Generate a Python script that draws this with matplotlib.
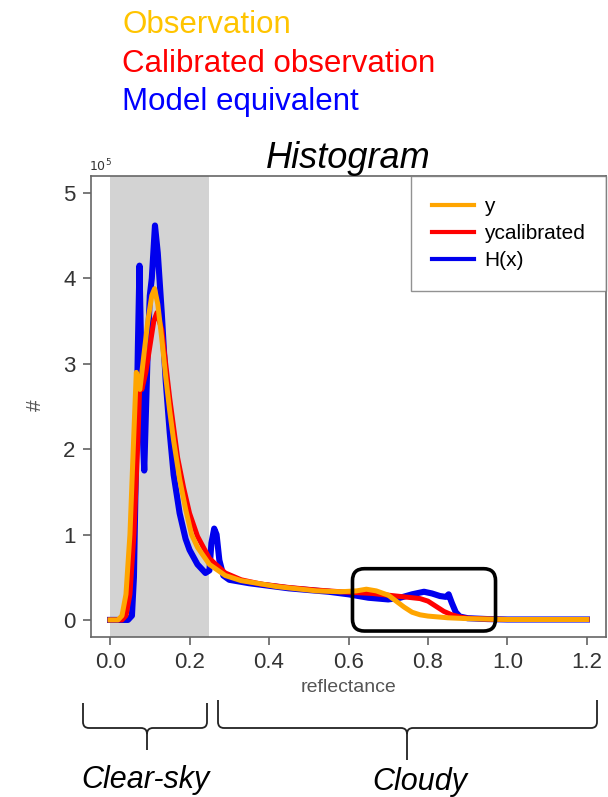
import numpy as np
import matplotlib.pyplot as plt
from matplotlib.patches import FancyBboxPatch, PathPatch
from matplotlib.path import Path

plt.rcParams['font.family'] = ['Liberation Sans', 'DejaVu Sans']

# reflectance / counts (x 1e5)
x_obs = [0.0, 0.02, 0.03, 0.04, 0.05, 0.06, 0.066, 0.075, 0.085, 0.095, 0.105, 0.112,
         0.12, 0.13, 0.14, 0.15, 0.16, 0.175, 0.19, 0.205, 0.22, 0.25, 0.29, 0.33, 0.37,
         0.42, 0.46, 0.52, 0.58, 0.62, 0.645, 0.67, 0.70, 0.72, 0.74, 0.76, 0.78, 0.80,
         0.85, 0.90, 0.95, 1.0, 1.2]
y_obs = [0, 0, 0.05, 0.3, 1.0, 2.2, 2.9, 2.7, 3.1, 3.5, 3.8, 3.88,
         3.7, 3.3, 2.85, 2.45, 2.1, 1.65, 1.3, 1.0, 0.85, 0.65, 0.52, 0.46, 0.43,
         0.39, 0.37, 0.34, 0.33, 0.34, 0.36, 0.34, 0.29, 0.22, 0.15, 0.09, 0.06, 0.045,
         0.025, 0.015, 0.01, 0.005, 0.005]

x_cal = [0.0, 0.03, 0.04, 0.05, 0.06, 0.07, 0.075, 0.08, 0.09, 0.10, 0.11, 0.118,
         0.13, 0.14, 0.15, 0.16, 0.17, 0.185, 0.20, 0.22, 0.25, 0.29, 0.33, 0.38, 0.45,
         0.52, 0.58, 0.62, 0.66, 0.70, 0.74, 0.78, 0.80, 0.82, 0.84, 0.86, 0.88, 0.90,
         0.95, 1.0, 1.2]
y_cal = [0, 0, 0.05, 0.3, 1.0, 2.1, 2.8, 2.7, 2.9, 3.2, 3.5, 3.6,
         3.4, 3.0, 2.6, 2.25, 1.9, 1.55, 1.25, 0.98, 0.72, 0.55, 0.47, 0.42, 0.38,
         0.35, 0.33, 0.32, 0.31, 0.29, 0.27, 0.25, 0.22, 0.16, 0.1, 0.06, 0.035, 0.02,
         0.01, 0.005, 0.005]

x_mod = [0.0, 0.045, 0.055, 0.06, 0.065, 0.07, 0.074, 0.078, 0.082, 0.086, 0.09, 0.095,
         0.10, 0.105, 0.113, 0.12, 0.13, 0.14, 0.15, 0.16, 0.175, 0.19, 0.20, 0.22, 0.24,
         0.25, 0.255, 0.262, 0.268, 0.275, 0.285, 0.30, 0.35, 0.40, 0.45, 0.50, 0.55, 0.60,
         0.65, 0.70, 0.73, 0.76, 0.79, 0.81, 0.83, 0.845, 0.852, 0.86, 0.87, 0.88, 0.90,
         0.95, 1.0, 1.2]
y_mod = [0, 0, 0.05, 0.5, 1.8, 3.2, 4.15, 3.2, 2.2, 1.75, 2.4, 3.2,
         3.8, 4.0, 4.62, 4.3, 3.6, 2.8, 2.2, 1.7, 1.25, 0.95, 0.82, 0.65, 0.55,
         0.58, 0.9, 1.07, 1.0, 0.7, 0.52, 0.47, 0.43, 0.4, 0.37, 0.35, 0.33, 0.3,
         0.26, 0.24, 0.26, 0.3, 0.33, 0.31, 0.28, 0.27, 0.3, 0.2, 0.09, 0.04, 0.02,
         0.01, 0.005, 0.005]

clear_sky = (0.0, 0.25)
zoom_box = (0.61, -0.13, 0.97, 0.60)   # x0, y0, x1, y1
xticks = [0.0, 0.2, 0.4, 0.6, 0.8, 1.0, 1.2]
yticks = [0, 1, 2, 3, 4, 5]

W, H = 608, 797
fig = plt.figure(figsize=(W / 100, H / 100), dpi=100)
ax = fig.add_axes([91 / W, 1 - 637 / H, 515 / W, 461 / H])


def fx(px):
    return px / W


def fy(py):
    return 1 - py / H


ax.axvspan(*clear_sky, color='#D3D3D3', lw=0, zorder=0)
ax.plot(x_mod, y_mod, color='#0000EE', lw=4.4, solid_joinstyle='round', label='H(x)', zorder=2)
ax.plot(x_cal, y_cal, color='#FF0000', lw=3.6, solid_joinstyle='round', label='ycalibrated', zorder=3)
ax.plot(x_obs, y_obs, color='#FFA500', lw=3.6, solid_joinstyle='round', label='y', zorder=4)

ax.set_xlim(-0.048, 1.248)
ax.set_ylim(-0.2, 5.2)
ax.set_xticks(xticks)
ax.set_xticklabels([f'{t:.1f}' for t in xticks])
ax.set_yticks(yticks)
ax.tick_params(length=6, width=1.1, color='#555555', labelsize=16, labelcolor='#333333', pad=5)
for s in ax.spines.values():
    s.set_color('#666666')
    s.set_linewidth(1.2)
ax.set_xlabel('reflectance', fontsize=14, color='#555555', labelpad=4)

# rounded box around the cloudy bump
bx0, by0, bx1, by1 = zoom_box
box = FancyBboxPatch((bx0, by0), bx1 - bx0, by1 - by0,
                     boxstyle='round,pad=0,rounding_size=0.03', mutation_aspect=4.67,
                     fill=False, ec='black', lw=2.6, zorder=6)
ax.add_patch(box)

h, l = ax.get_legend_handles_labels()
order = [2, 1, 0]
leg = ax.legend([h[i] for i in order], [l[i] for i in order], loc='upper right',
                fontsize=15, frameon=True, fancybox=False, borderaxespad=0,
                borderpad=1.0, labelspacing=0.4, handlelength=2.0, handletextpad=0.5)
leg.get_frame().set_edgecolor('#777777')
leg.get_frame().set_linewidth(1.0)
for ln in leg.get_lines():
    ln.set_linewidth(3.0)

fig.text(fx(348), fy(168), 'Histogram', fontsize=26, style='italic', ha='center', va='baseline')
fig.text(fx(89), fy(171), r'$10^5$', fontsize=9, color='#333333', ha='left', va='baseline')
fig.text(fx(35), fy(405), '#', fontsize=15, color='#555555', rotation=90, ha='center', va='center')

fig.text(fx(122), fy(33), 'Observation', fontsize=22.5, color='#FFC400', va='baseline')
fig.text(fx(122), fy(72), 'Calibrated observation', fontsize=22.5, color='#FF0000', va='baseline')
fig.text(fx(122), fy(110), 'Model equivalent', fontsize=22.5, color='#0000FF', va='baseline')


def brace(x0, x1, xc, ytop, ymid, ytip, r=6):
    pts = [(x0, ytop), (x0, ymid - r), (x0, ymid), (x0 + r, ymid),
           (xc - r, ymid), (xc, ymid), (xc, ymid + r), (xc, ytip),
           (xc, ymid + r), (xc, ymid), (xc + r, ymid),
           (x1 - r, ymid), (x1, ymid), (x1, ymid - r), (x1, ytop)]
    codes = [Path.MOVETO, Path.LINETO, Path.CURVE3, Path.CURVE3,
             Path.LINETO, Path.CURVE3, Path.CURVE3, Path.LINETO,
             Path.MOVETO, Path.CURVE3, Path.CURVE3,
             Path.LINETO, Path.CURVE3, Path.CURVE3, Path.LINETO]
    verts = [(fx(a), fy(b)) for a, b in pts]
    fig.add_artist(PathPatch(Path(verts, codes), fill=False, ec='#222222', lw=1.3,
                             transform=fig.transFigure))


brace(83, 207, 147, 703, 728, 750)
brace(218, 597, 407, 700, 728, 760)
fig.text(fx(145), fy(788), 'Clear-sky', fontsize=22, style='italic', ha='center', va='baseline')
fig.text(fx(420), fy(790), 'Cloudy', fontsize=22, style='italic', ha='center', va='baseline')

fig.savefig('out.png', dpi=100)
